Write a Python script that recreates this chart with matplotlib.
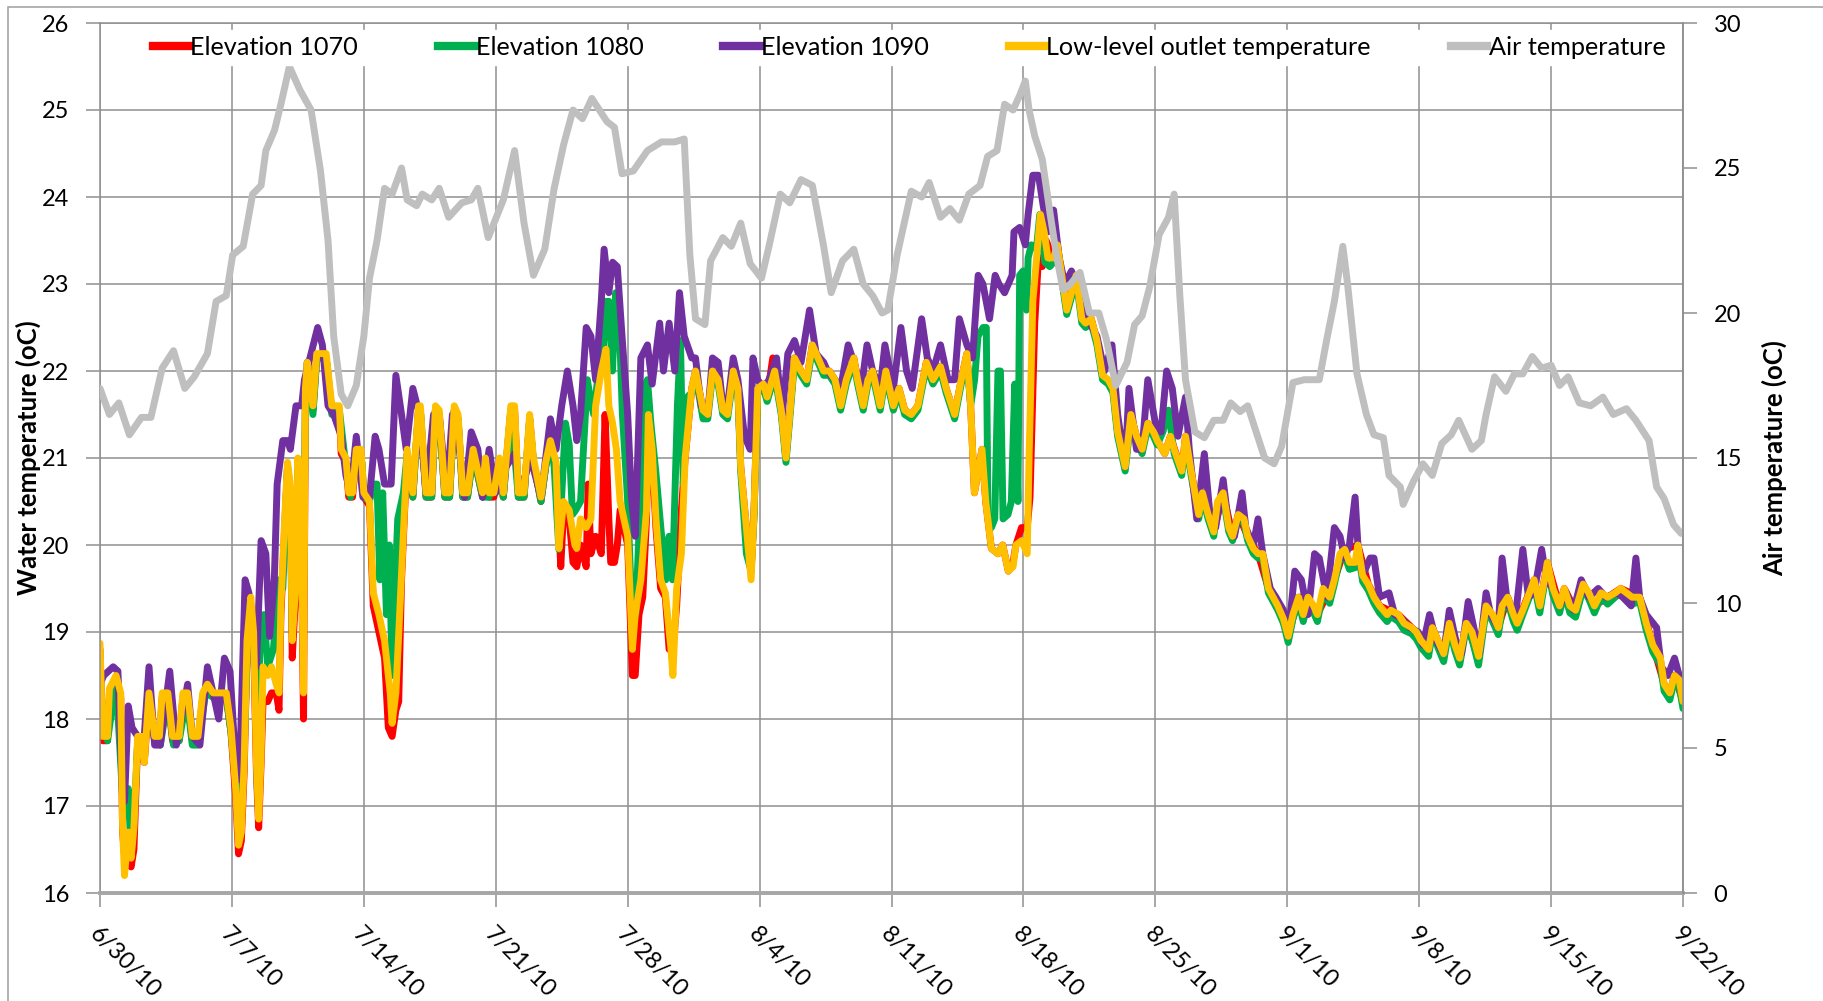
import matplotlib
matplotlib.use('Agg')
import matplotlib.pyplot as plt
from matplotlib.lines import Line2D
from matplotlib.patches import Rectangle

plt.rcParams['font.family'] = ['Lato', 'DejaVu Sans']

# days after 6/30/10
tick_days = [0, 7, 14, 21, 28, 35, 42, 49, 56, 63, 70, 77, 84]
tick_labels = ['6/30/10', '7/7/10', '7/14/10', '7/21/10', '7/28/10', '8/4/10', '8/11/10',
               '8/18/10', '8/25/10', '9/1/10', '9/8/10', '9/15/10', '9/22/10']

# (day, water temperature)
elev_1070 = [(0, 18.8), (0.14, 17.75), (0.4, 17.75), (0.5, 18.3), (0.85, 18.45), (1.1, 18.25), (1.2, 16.7), (1.35, 16.3),
             (1.5, 16.4), (1.65, 16.3), (1.8, 16.5), (2.0, 17.75), (2.2, 17.75), (2.35, 17.5), (2.6, 18.25), (2.9, 17.75),
             (3.15, 17.75), (3.3, 18.25), (3.6, 18.25), (3.85, 17.75), (4.2, 17.75), (4.4, 18.25), (4.65, 18.25), (4.9, 17.75),
             (5.2, 17.75), (5.45, 18.25), (5.7, 18.35), (6.0, 18.25), (6.7, 18.25), (6.95, 17.85), (7.2, 17.1), (7.35, 16.45),
             (7.5, 16.6), (7.65, 17.4), (7.8, 18.8), (8.0, 19.3), (8.15, 18.9), (8.3, 17.4), (8.42, 16.75), (8.55, 17.5),
             (8.65, 18.2), (8.9, 18.2), (9.1, 18.3), (9.35, 18.3), (9.5, 18.1), (9.6, 19.2), (9.8, 20.2), (9.95, 20.9),
             (10.1, 20.6), (10.2, 18.7), (10.4, 19.5), (10.5, 20.9), (10.7, 19.7), (10.8, 18.0), (10.9, 21.7), (11.0, 22.1),
             (11.3, 21.55), (11.5, 22.15), (12.0, 22.15), (12.3, 21.55), (12.7, 21.55), (12.8, 21.05), (13.05, 20.95),
             (13.2, 20.55), (13.4, 20.55), (13.6, 21.05), (13.85, 21.05), (14.0, 20.55), (14.3, 20.45), (14.5, 19.3),
             (14.8, 19.0), (15.1, 18.7), (15.3, 17.9), (15.5, 17.8), (15.7, 18.1), (15.85, 18.2), (16.0, 19.6), (16.2, 20.55),
             (16.3, 21.05), (16.6, 20.55), (16.9, 21.55), (17.0, 21.55), (17.3, 20.55), (17.6, 20.55), (17.8, 21.55),
             (18.0, 21.5), (18.3, 20.55), (18.55, 20.55), (18.8, 21.55), (19.0, 21.45), (19.25, 20.55), (19.5, 20.55),
             (19.8, 21.05), (20.05, 20.8), (20.3, 20.55), (20.45, 20.95), (20.65, 20.55), (20.9, 20.55), (21.2, 20.95),
             (21.4, 20.55), (21.8, 21.55), (22.0, 21.55), (22.2, 20.55), (22.5, 20.55), (22.8, 21.45), (23.0, 20.95),
             (23.4, 20.5), (23.65, 20.9), (23.9, 21.15), (24.2, 20.9), (24.45, 19.75), (24.6, 20.4), (24.9, 20.3),
             (25.1, 19.8), (25.3, 19.75), (25.5, 20.0), (25.8, 19.75), (25.9, 20.7), (26.05, 19.9), (26.3, 20.1),
             (26.6, 19.9), (26.8, 21.5), (27.0, 20.3), (27.1, 19.8), (27.3, 19.8), (27.45, 20.0), (27.6, 20.4), (28.0, 20.0),
             (28.25, 18.5), (28.4, 18.5), (28.6, 19.2), (28.8, 19.4), (29.0, 20.3), (29.1, 21.4), (29.3, 21.0), (29.5, 20.2),
             (29.75, 19.5), (30.0, 19.4), (30.2, 18.8), (30.4, 18.8), (30.6, 19.3), (30.85, 20.4), (31.05, 21.0),
             (31.4, 21.8), (31.6, 22.0), (32.0, 21.55), (32.25, 21.5), (32.5, 22.0), (32.8, 21.9), (33.05, 21.55),
             (33.3, 21.5), (33.6, 22.0), (33.85, 21.8), (34.0, 20.9), (34.3, 20.2), (34.55, 19.7), (34.7, 20.35),
             (34.9, 21.8), (35.2, 21.85), (35.4, 21.7), (35.7, 22.15), (36.15, 21.55), (36.4, 21.0), (36.6, 21.5),
             (36.85, 22.15), (37.2, 22.0), (37.5, 21.9), (37.8, 22.3), (38.1, 22.15), (38.4, 22.0), (38.7, 22.0),
             (39.0, 21.9), (39.3, 21.6), (39.6, 21.9), (40.0, 22.15), (40.2, 21.9), (40.5, 21.6), (40.75, 21.9),
             (41.0, 22.0), (41.4, 21.6), (41.7, 22.0), (42.1, 21.6), (42.4, 21.8), (42.7, 21.55), (43.05, 21.5),
             (43.4, 21.6), (43.85, 22.1), (44.2, 21.9), (44.6, 22.05), (44.9, 21.8), (45.35, 21.5), (45.7, 21.9),
             (46.0, 22.2), (46.2, 21.6), (46.4, 20.6), (46.6, 20.85), (46.8, 21.1), (47.0, 20.5), (47.3, 19.96),
             (47.65, 19.9), (47.9, 20.0), (48.2, 19.7), (48.45, 19.8), (48.6, 20.0), (48.9, 20.2), (49.2, 20.2),
             (49.35, 20.55), (49.6, 22.55), (49.8, 23.3), (50.0, 23.2), (50.2, 23.5), (50.6, 23.3), (50.8, 23.45),
             (51.1, 23.0), (51.3, 22.7), (51.55, 22.9), (51.8, 23.1), (52.1, 22.6), (52.6, 22.6), (52.9, 22.35),
             (53.2, 21.95), (53.75, 21.8), (54.0, 21.3), (54.4, 20.9), (54.7, 21.5), (55.0, 21.25), (55.3, 21.1),
             (55.6, 21.4), (56.1, 21.2), (56.5, 21.05), (56.8, 21.25), (57.4, 20.85), (57.6, 21.25), (57.9, 20.85),
             (58.3, 20.35), (58.5, 20.6), (59.1, 20.15), (59.6, 20.6), (60.1, 20.1), (60.4, 20.35), (60.9, 20.1),
             (61.45, 19.9), (62.0, 19.5), (62.5, 19.3), (63.05, 18.95), (63.6, 19.4), (64.1, 19.4), (64.6, 19.2),
             (65.5, 19.6), (66.05, 19.95), (66.75, 20.0), (67.3, 19.55), (67.9, 19.3), (68.9, 19.2), (69.85, 19.0),
             (70.5, 18.8), (70.7, 19.05), (71.3, 18.75), (71.6, 19.1), (72.15, 18.7), (72.5, 19.1), (73.15, 18.7),
             (73.55, 19.3), (74.2, 19.05), (74.7, 19.4), (75.2, 19.1), (76.1, 19.6), (76.4, 19.3), (76.8, 19.8),
             (77.45, 19.3), (77.7, 19.5), (78.3, 19.25), (78.7, 19.55), (79.3, 19.3), (80.0, 19.4), (80.7, 19.5),
             (81.7, 19.4), (82.4, 18.85), (83.0, 18.4), (83.3, 18.3), (83.55, 18.5), (84.0, 18.2)]

elev_1080 = [(0, 18.35), (0.4, 17.75), (0.85, 18.45), (1.2, 17.1), (1.3, 16.9), (1.5, 17.2), (1.65, 16.45), (1.8, 16.8),
             (2.0, 17.75), (2.3, 17.6), (2.6, 18.25), (2.9, 17.75), (3.2, 17.7), (3.6, 18.25), (3.9, 17.7), (4.2, 17.75),
             (4.6, 18.25), (4.9, 17.7), (5.2, 17.7), (5.6, 18.3), (6.0, 18.25), (6.7, 18.25), (6.95, 17.85), (7.2, 17.3),
             (7.4, 17.15), (7.6, 17.3), (7.85, 19.0), (8.0, 19.3), (8.2, 19.0), (8.35, 17.2), (8.5, 19.1), (8.7, 19.2),
             (8.9, 18.6), (9.2, 18.8), (9.5, 19.6), (9.7, 19.5), (9.95, 20.9), (10.1, 20.6), (10.2, 19.0), (10.4, 19.6),
             (10.5, 20.9), (10.7, 19.9), (10.8, 19.3), (10.9, 21.7), (11.0, 22.1), (11.3, 21.5), (11.5, 22.15), (12.0, 22.15),
             (12.3, 21.5), (12.7, 21.55), (13.05, 20.9), (13.3, 20.55), (13.6, 21.05), (13.9, 20.95), (14.0, 20.55),
             (14.3, 20.5), (14.5, 20.7), (14.7, 20.7), (14.85, 19.6), (15.0, 20.6), (15.2, 19.2), (15.35, 20.0),
             (15.5, 18.5), (15.65, 19.5), (15.8, 20.3), (16.1, 20.6), (16.3, 21.05), (16.6, 20.55), (16.9, 21.55),
             (17.0, 21.55), (17.3, 20.55), (17.6, 20.55), (17.8, 21.55), (18.0, 21.5), (18.3, 20.55), (18.55, 20.55),
             (18.8, 21.55), (19.0, 21.45), (19.25, 20.55), (19.5, 20.55), (19.8, 21.05), (20.05, 20.8), (20.3, 20.55),
             (20.65, 20.55), (21.2, 20.95), (21.4, 20.55), (21.8, 21.55), (22.2, 20.55), (22.5, 20.55), (22.8, 21.45),
             (23.0, 20.95), (23.4, 20.5), (23.65, 20.9), (23.9, 21.2), (24.1, 20.9), (24.35, 19.95), (24.7, 21.4),
             (24.9, 21.15), (25.07, 20.35), (25.24, 20.4), (25.5, 20.5), (25.86, 21.9), (26.04, 21.65), (26.2, 21.5),
             (26.4, 21.9), (26.66, 22.0), (26.84, 22.8), (27.01, 22.8), (27.19, 22.0), (27.37, 22.9), (27.55, 22.6),
             (27.72, 21.5), (27.99, 20.55), (28.16, 19.6), (28.43, 19.2), (28.61, 20.2), (28.87, 21.8), (29.05, 21.9),
             (29.23, 21.4), (29.49, 20.85), (29.76, 20.2), (30.02, 19.6), (30.2, 20.1), (30.38, 19.6), (30.64, 21.6),
             (30.8, 22.35), (30.95, 20.7), (31.15, 21.7), (31.4, 21.75), (31.6, 21.95), (32.0, 21.45), (32.25, 21.45),
             (32.5, 21.95), (32.8, 21.85), (33.05, 21.5), (33.3, 21.45), (33.6, 21.95), (33.85, 21.75), (34.0, 20.85),
             (34.3, 19.9), (34.55, 19.7), (34.7, 20.3), (34.9, 21.75), (35.2, 21.8), (35.4, 21.65), (35.8, 21.95),
             (36.15, 21.5), (36.4, 20.95), (36.6, 21.45), (36.85, 22.1), (37.2, 21.95), (37.5, 21.85), (37.8, 22.25),
             (38.1, 22.1), (38.4, 21.95), (38.7, 21.95), (39.0, 21.85), (39.3, 21.55), (39.6, 21.85), (40.0, 22.1),
             (40.2, 21.85), (40.5, 21.55), (40.75, 21.85), (41.0, 21.95), (41.4, 21.55), (41.7, 21.95), (42.1, 21.55),
             (42.4, 21.75), (42.7, 21.5), (43.05, 21.45), (43.4, 21.55), (43.85, 22.05), (44.2, 21.85), (44.6, 22.0),
             (44.9, 21.75), (45.35, 21.45), (45.7, 21.85), (46.0, 22.15), (46.2, 21.6), (46.41, 21.9), (46.59, 22.4),
             (46.86, 22.5), (47.03, 22.5), (47.12, 20.3), (47.3, 20.2), (47.48, 20.3), (47.65, 22.0), (47.78, 22.0),
             (47.92, 20.3), (48.18, 20.35), (48.36, 20.5), (48.54, 21.85), (48.71, 20.5), (48.8, 23.1), (48.98, 23.15),
             (49.16, 22.7), (49.25, 23.3), (49.42, 23.45), (49.69, 23.4), (49.87, 23.8), (50.13, 23.25), (50.4, 23.2),
             (50.6, 23.25), (50.8, 23.4), (51.1, 22.95), (51.3, 22.65), (51.55, 22.85), (51.8, 23.05), (52.1, 22.55),
             (52.3, 22.5), (52.6, 22.55), (52.9, 22.3), (53.2, 21.9), (53.5, 21.85), (53.75, 21.75), (54.0, 21.25),
             (54.4, 20.85), (54.7, 21.45), (55.0, 21.2), (55.3, 21.05), (55.6, 21.35), (55.9, 21.25), (56.1, 21.15),
             (56.4, 21.3), (56.7, 21.55), (57.0, 21.05), (57.4, 20.8), (57.6, 21.2), (57.9, 20.8), (58.3, 20.3),
             (58.5, 20.55), (58.8, 20.3), (59.1, 20.1), (59.3, 20.45), (59.6, 20.55), (59.9, 20.15), (60.1, 20.05),
             (60.4, 20.3), (60.7, 20.25), (60.9, 20.05), (61.2, 19.9), (61.45, 19.85), (61.7, 19.85), (62.0, 19.45),
             (62.25, 19.35), (62.5, 19.25), (62.8, 19.1), (63.05, 18.88), (63.3, 19.15), (63.6, 19.35), (63.85, 19.12),
             (64.1, 19.35), (64.4, 19.22), (64.6, 19.12), (64.9, 19.45), (65.25, 19.33), (65.5, 19.55), (65.8, 19.85),
             (66.05, 19.88), (66.3, 19.72), (66.6, 19.74), (66.75, 19.95), (67.0, 19.58), (67.3, 19.48), (67.6, 19.33),
             (67.9, 19.22), (68.3, 19.12), (68.5, 19.18), (68.9, 19.12), (69.2, 19.02), (69.6, 18.98), (69.85, 18.92),
             (70.1, 18.82), (70.5, 18.72), (70.7, 19.0), (71.0, 18.82), (71.3, 18.66), (71.6, 19.05), (71.9, 18.78),
             (72.15, 18.62), (72.5, 19.05), (72.8, 18.92), (73.15, 18.62), (73.55, 19.25), (73.9, 19.12), (74.2, 18.97),
             (74.4, 19.25), (74.7, 19.35), (75.0, 19.12), (75.2, 19.02), (75.5, 19.2), (75.85, 19.4), (76.1, 19.55),
             (76.4, 19.22), (76.65, 19.55), (76.8, 19.75), (77.1, 19.42), (77.45, 19.22), (77.7, 19.45), (78.0, 19.22),
             (78.3, 19.17), (78.7, 19.5), (79.0, 19.38), (79.3, 19.22), (79.65, 19.4), (80.0, 19.32), (80.4, 19.4),
             (80.7, 19.45), (81.0, 19.38), (81.3, 19.32), (81.7, 19.35), (82.05, 19.02), (82.4, 18.77), (82.8, 18.62),
             (83.0, 18.32), (83.3, 18.22), (83.55, 18.45), (83.8, 18.37), (84.0, 18.12)]

elev_1090 = [(0, 18.4), (0.2, 18.5), (0.7, 18.6), (0.95, 18.55), (1.2, 17.1), (1.3, 17.05), (1.5, 18.15), (1.7, 17.9),
             (2.0, 17.8), (2.3, 17.65), (2.6, 18.6), (2.9, 17.7), (3.2, 17.7), (3.7, 18.55), (4.05, 17.7), (4.65, 18.4),
             (4.9, 17.8), (5.3, 17.7), (5.7, 18.6), (6.0, 18.3), (6.3, 18.0), (6.6, 18.7), (6.9, 18.55), (7.15, 17.65),
             (7.4, 17.3), (7.7, 19.6), (7.9, 19.45), (8.3, 18.6), (8.55, 20.05), (8.8, 19.9), (9.0, 18.95), (9.25, 19.6),
             (9.4, 20.7), (9.7, 21.2), (9.95, 21.2), (10.1, 21.1), (10.4, 21.6), (10.7, 21.6), (10.85, 21.9), (11.2, 22.2),
             (11.55, 22.5), (11.8, 22.3), (12.1, 21.6), (12.4, 21.5), (12.8, 21.25), (13.05, 20.8), (13.3, 20.6),
             (13.6, 21.25), (13.95, 20.55), (14.3, 20.55), (14.6, 21.25), (14.8, 21.1), (15.1, 20.7), (15.45, 20.7),
             (15.7, 21.95), (16.0, 21.5), (16.25, 21.1), (16.6, 21.8), (16.95, 21.5), (17.3, 20.6), (17.7, 21.5),
             (18.0, 21.5), (18.4, 20.6), (18.7, 21.5), (19.1, 21.05), (19.35, 20.55), (19.7, 21.3), (20.05, 21.1),
             (20.3, 20.55), (20.65, 21.1), (21.0, 20.6), (21.4, 20.85), (22.0, 21.05), (22.3, 20.6), (22.85, 21.0),
             (23.4, 20.55), (23.9, 21.45), (24.2, 21.1), (24.5, 21.6), (24.8, 22.0), (25.1, 21.6), (25.3, 21.2),
             (25.5, 21.5), (25.8, 22.5), (26.05, 22.4), (26.3, 21.9), (26.6, 22.8), (26.75, 23.4), (27.0, 22.9),
             (27.2, 23.25), (27.45, 23.2), (27.7, 22.4), (28.0, 21.5), (28.2, 20.55), (28.4, 20.1), (28.7, 22.15),
             (29.05, 22.3), (29.3, 21.85), (29.7, 22.55), (29.9, 22.0), (30.2, 22.55), (30.5, 22.0), (30.75, 22.9),
             (31.0, 22.4), (31.4, 22.15), (31.6, 22.15), (31.9, 21.6), (32.25, 21.5), (32.5, 22.15), (32.8, 22.1),
             (33.05, 21.6), (33.3, 21.6), (33.6, 22.15), (33.85, 21.9), (34.2, 21.25), (34.5, 21.1), (34.65, 22.15),
             (34.9, 21.9), (35.2, 21.8), (35.5, 21.9), (35.9, 22.15), (36.2, 21.5), (36.5, 22.2), (36.85, 22.35),
             (37.2, 22.1), (37.65, 22.7), (38.0, 22.2), (38.4, 22.1), (38.6, 22.0), (39.0, 21.9), (39.3, 21.8),
             (39.7, 22.3), (40.0, 22.1), (40.4, 21.8), (40.7, 22.3), (41.0, 22.0), (41.4, 21.8), (41.65, 22.3),
             (42.1, 21.8), (42.5, 22.5), (42.8, 22.0), (43.1, 21.8), (43.6, 22.6), (43.9, 22.15), (44.2, 22.0),
             (44.6, 22.3), (45.0, 21.9), (45.35, 21.9), (45.6, 22.6), (46.0, 22.3), (46.3, 22.15), (46.6, 23.1),
             (46.85, 23.0), (47.2, 22.6), (47.5, 23.1), (47.7, 23.0), (48.0, 22.9), (48.4, 23.1), (48.5, 23.6),
             (48.8, 23.65), (49.1, 23.45), (49.25, 23.8), (49.5, 24.25), (49.8, 24.25), (50.05, 23.9), (50.3, 23.6),
             (50.6, 23.85), (50.9, 23.3), (51.2, 23.0), (51.55, 23.15), (51.8, 23.0), (52.2, 22.7), (52.4, 22.6),
             (52.9, 22.4), (53.3, 22.0), (53.7, 22.3), (54.0, 21.5), (54.4, 20.9), (54.6, 21.8), (55.0, 21.1),
             (55.3, 21.1), (55.6, 21.9), (56.0, 21.4), (56.3, 21.3), (56.6, 22.0), (56.9, 21.8), (57.2, 21.25),
             (57.6, 21.7), (57.8, 21.1), (58.2, 20.3), (58.6, 21.05), (58.9, 20.35), (59.2, 20.2), (59.6, 20.75),
             (59.9, 20.2), (60.2, 20.1), (60.6, 20.6), (60.8, 20.2), (61.2, 20.0), (61.45, 20.3), (61.7, 19.9),
             (62.1, 19.5), (62.4, 19.4), (62.8, 19.25), (63.05, 18.95), (63.4, 19.7), (63.75, 19.6), (64.1, 19.2),
             (64.45, 19.9), (64.7, 19.85), (65.1, 19.4), (65.5, 20.2), (65.8, 20.1), (66.05, 19.85), (66.3, 20.0),
             (66.6, 20.55), (66.75, 20.0), (67.0, 19.65), (67.4, 19.85), (67.6, 19.85), (67.9, 19.4), (68.4, 19.45),
             (68.7, 19.2), (69.1, 19.15), (69.5, 19.05), (69.95, 19.0), (70.2, 18.85), (70.55, 19.2), (70.9, 18.9),
             (71.3, 18.75), (71.6, 19.25), (72.0, 18.85), (72.25, 18.75), (72.6, 19.35), (72.9, 19.05), (73.2, 18.75),
             (73.55, 19.45), (73.8, 19.2), (74.2, 19.05), (74.4, 19.85), (74.7, 19.3), (75.15, 19.25), (75.5, 19.95),
             (75.8, 19.4), (76.1, 19.45), (76.5, 19.95), (76.75, 19.6), (77.1, 19.5), (77.45, 19.3), (77.8, 19.45),
             (78.2, 19.25), (78.6, 19.6), (79.0, 19.4), (79.5, 19.5), (79.9, 19.4), (80.5, 19.45), (80.8, 19.4),
             (81.25, 19.3), (81.5, 19.85), (81.7, 19.4), (82.05, 19.2), (82.6, 19.05), (82.85, 18.6), (83.2, 18.5),
             (83.55, 18.7), (83.8, 18.5), (84.0, 18.35)]

outlet = [(0, 18.87), (0.14, 17.8), (0.4, 17.8), (0.5, 18.35), (0.85, 18.5), (1.1, 18.3), (1.2, 16.75), (1.3, 16.2),
          (1.5, 16.7), (1.65, 16.4), (1.8, 16.75), (2.0, 17.8), (2.2, 17.8), (2.35, 17.5), (2.6, 18.3), (2.9, 17.8),
          (3.15, 17.8), (3.3, 18.3), (3.6, 18.3), (3.85, 17.8), (4.2, 17.8), (4.4, 18.3), (4.65, 18.3), (4.9, 17.8),
          (5.2, 17.8), (5.45, 18.3), (5.7, 18.4), (6.0, 18.3), (6.7, 18.3), (6.95, 17.9), (7.2, 17.2), (7.35, 16.55),
          (7.5, 16.7), (7.65, 17.5), (7.8, 18.9), (8.0, 19.4), (8.15, 19.0), (8.3, 17.5), (8.42, 16.85), (8.55, 17.6),
          (8.65, 18.6), (8.9, 18.5), (9.1, 18.6), (9.35, 18.4), (9.5, 18.3), (9.6, 19.3), (9.8, 20.3), (9.95, 20.95),
          (10.1, 20.7), (10.2, 18.9), (10.4, 19.6), (10.5, 21.0), (10.7, 19.8), (10.8, 18.3), (10.9, 21.8), (11.0, 22.1),
          (11.3, 21.6), (11.5, 22.2), (12.0, 22.2), (12.3, 21.6), (12.7, 21.6), (12.8, 21.1), (13.05, 21.0), (13.2, 20.6),
          (13.4, 20.6), (13.6, 21.1), (13.85, 21.1), (14.0, 20.6), (14.3, 20.5), (14.5, 19.45), (14.8, 19.2), (15.1, 18.9),
          (15.4, 18.3), (15.5, 17.95), (15.7, 18.3), (15.9, 19.2), (16.2, 20.6), (16.3, 21.1), (16.6, 20.6), (16.9, 21.6),
          (17.0, 21.6), (17.3, 20.6), (17.6, 20.6), (17.8, 21.6), (18.0, 21.55), (18.3, 20.6), (18.55, 20.6), (18.8, 21.6),
          (19.0, 21.5), (19.25, 20.6), (19.5, 20.6), (19.8, 21.1), (20.05, 20.85), (20.3, 20.6), (20.45, 21.0),
          (20.65, 20.6), (20.9, 20.6), (21.2, 21.0), (21.4, 20.6), (21.8, 21.6), (22.0, 21.6), (22.2, 20.6), (22.5, 20.6),
          (22.8, 21.5), (23.0, 21.0), (23.4, 20.55), (23.65, 20.95), (23.9, 21.2), (24.2, 20.95), (24.35, 19.96),
          (24.6, 20.5), (24.9, 20.4), (25.2, 20.0), (25.3, 19.96), (25.5, 20.3), (25.8, 20.2), (26.05, 20.3), (26.3, 21.6),
          (26.6, 22.0), (26.85, 22.25), (27.0, 21.6), (27.2, 21.4), (27.4, 21.1), (27.6, 20.5), (28.0, 20.1), (28.25, 18.8),
          (28.4, 19.2), (28.7, 19.6), (29.0, 20.4), (29.1, 21.5), (29.3, 21.1), (29.5, 20.3), (29.75, 19.6), (30.0, 19.45),
          (30.3, 18.8), (30.4, 18.5), (30.6, 19.5), (30.85, 19.9), (31.05, 21.0), (31.4, 21.8), (31.6, 22.0),
          (32.0, 21.55), (32.25, 21.5), (32.5, 22.0), (32.8, 21.9), (33.05, 21.55), (33.3, 21.5), (33.6, 22.0),
          (33.85, 21.8), (34.0, 20.9), (34.3, 20.2), (34.55, 19.6), (34.7, 20.35), (34.9, 21.8), (35.2, 21.85),
          (35.4, 21.7), (35.8, 22.0), (36.15, 21.55), (36.4, 21.0), (36.6, 21.5), (36.85, 22.15), (37.2, 22.0),
          (37.5, 21.9), (37.8, 22.3), (38.1, 22.15), (38.4, 22.0), (38.7, 22.0), (39.0, 21.9), (39.3, 21.6), (39.6, 21.9),
          (40.0, 22.15), (40.2, 21.9), (40.5, 21.6), (40.75, 21.9), (41.0, 22.0), (41.4, 21.6), (41.7, 22.0), (42.1, 21.6),
          (42.4, 21.8), (42.7, 21.55), (43.05, 21.5), (43.4, 21.6), (43.85, 22.1), (44.2, 21.9), (44.6, 22.05),
          (44.9, 21.8), (45.35, 21.5), (45.7, 21.9), (46.0, 22.2), (46.2, 21.6), (46.4, 20.6), (46.6, 20.85), (46.8, 21.1),
          (47.0, 20.5), (47.3, 19.96), (47.65, 19.9), (47.9, 20.0), (48.2, 19.7), (48.45, 19.75), (48.6, 20.0),
          (48.9, 20.05), (49.2, 19.9), (49.3, 21.0), (49.5, 22.8), (49.7, 23.3), (49.9, 23.8), (50.1, 23.6), (50.3, 23.3),
          (50.6, 23.3), (50.8, 23.45), (51.1, 23.0), (51.3, 22.7), (51.55, 22.9), (51.8, 23.1), (52.1, 22.6), (52.3, 22.55),
          (52.6, 22.6), (52.9, 22.35), (53.2, 21.95), (53.5, 21.9), (53.75, 21.8), (54.0, 21.3), (54.4, 20.9), (54.7, 21.5),
          (55.0, 21.25), (55.3, 21.1), (55.6, 21.4), (55.9, 21.3), (56.1, 21.2), (56.5, 21.05), (56.8, 21.25), (57.0, 21.1),
          (57.4, 20.85), (57.6, 21.25), (57.9, 20.85), (58.3, 20.35), (58.5, 20.6), (58.8, 20.35), (59.1, 20.15),
          (59.3, 20.5), (59.6, 20.6), (59.9, 20.2), (60.1, 20.1), (60.4, 20.35), (60.7, 20.3), (60.9, 20.1), (61.2, 19.96),
          (61.45, 19.9), (61.7, 19.9), (62.0, 19.5), (62.25, 19.4), (62.5, 19.3), (62.8, 19.15), (63.05, 18.95),
          (63.3, 19.2), (63.6, 19.4), (63.85, 19.2), (64.1, 19.4), (64.4, 19.3), (64.6, 19.2), (64.9, 19.5), (65.25, 19.4),
          (65.5, 19.6), (65.8, 19.9), (66.05, 19.95), (66.3, 19.8), (66.6, 19.8), (66.75, 20.0), (67.0, 19.65),
          (67.3, 19.55), (67.6, 19.4), (67.9, 19.3), (68.3, 19.2), (68.5, 19.25), (68.9, 19.2), (69.2, 19.1), (69.6, 19.05),
          (69.85, 19.0), (70.1, 18.9), (70.5, 18.8), (70.7, 19.05), (71.0, 18.9), (71.3, 18.75), (71.6, 19.1),
          (71.9, 18.85), (72.15, 18.7), (72.5, 19.1), (72.8, 19.0), (73.15, 18.72), (73.55, 19.3), (73.9, 19.2),
          (74.2, 19.05), (74.4, 19.3), (74.7, 19.4), (75.0, 19.2), (75.2, 19.1), (75.5, 19.25), (75.85, 19.45), (76.1, 19.6),
          (76.4, 19.3), (76.65, 19.6), (76.8, 19.8), (77.1, 19.5), (77.45, 19.3), (77.7, 19.5), (78.0, 19.3), (78.3, 19.25),
          (78.7, 19.55), (79.0, 19.45), (79.3, 19.3), (79.65, 19.45), (80.0, 19.4), (80.4, 19.45), (80.7, 19.5),
          (81.0, 19.45), (81.3, 19.4), (81.7, 19.4), (82.05, 19.1), (82.4, 18.85), (82.8, 18.7), (83.0, 18.4), (83.3, 18.3),
          (83.55, 18.5), (83.8, 18.45), (84.0, 18.2)]

# (day, air temperature), right axis
air = [(0, 17.4), (0.5, 16.5), (1.0, 16.9), (1.56, 15.8), (2.2, 16.4), (2.7, 16.4), (3.3, 18.1), (3.9, 18.7), (4.5, 17.4),
       (5.0, 17.8), (5.7, 18.6), (6.16, 20.4), (6.7, 20.6), (7.04, 22.0), (7.6, 22.3), (8.1, 24.1), (8.55, 24.4),
       (8.8, 25.6), (9.26, 26.3), (9.6, 27.2), (10.05, 28.5), (10.6, 27.7), (11.2, 27.0), (11.7, 24.9), (12.1, 22.5),
       (12.4, 19.2), (12.8, 17.2), (13.15, 16.8), (13.6, 17.5), (14.0, 19.2), (14.3, 21.2), (14.7, 22.5), (15.1, 24.3),
       (15.5, 24.1), (16.0, 25.0), (16.3, 23.9), (16.8, 23.7), (17.1, 24.1), (17.6, 23.9), (18.0, 24.3), (18.5, 23.3),
       (19.2, 23.8), (19.7, 23.9), (20.05, 24.3), (20.6, 22.6), (21.4, 23.9), (22.0, 25.6), (22.5, 23.1), (23.0, 21.3),
       (23.6, 22.2), (24.1, 24.3), (24.6, 25.8), (25.1, 27.0), (25.6, 26.7), (26.1, 27.4), (26.5, 27.0), (26.9, 26.6),
       (27.3, 26.4), (27.7, 24.8), (28.3, 24.9), (29.05, 25.6), (29.8, 25.9), (30.5, 25.9), (31.0, 26.0), (31.3, 22.0),
       (31.6, 19.8), (32.1, 19.6), (32.4, 21.8), (33.05, 22.6), (33.5, 22.3), (34.0, 23.1), (34.5, 21.7), (35.1, 21.2),
       (35.5, 22.3), (36.1, 24.1), (36.6, 23.8), (37.2, 24.6), (37.8, 24.4), (38.4, 22.3), (38.8, 20.7), (39.4, 21.8),
       (40.0, 22.2), (40.5, 21.0), (41.0, 20.6), (41.5, 20.0), (41.8, 20.1), (42.3, 22.0), (43.05, 24.2), (43.6, 24.0),
       (44.0, 24.5), (44.6, 23.3), (45.1, 23.6), (45.6, 23.2), (46.1, 24.1), (46.7, 24.4), (47.1, 25.4), (47.6, 25.6),
       (48.0, 27.2), (48.45, 27.0), (48.8, 27.5), (49.1, 28.0), (49.3, 27.0), (49.6, 26.1), (50.0, 25.3), (50.4, 23.5),
       (50.75, 22.0), (51.1, 20.8), (51.5, 21.0), (52.0, 21.4), (52.5, 20.0), (53.0, 20.0), (53.4, 19.1), (53.9, 17.5),
       (54.5, 18.3), (54.9, 19.6), (55.3, 19.9), (55.7, 20.9), (56.2, 22.7), (56.7, 23.3), (57.0, 24.1), (57.3, 20.6),
       (57.6, 17.7), (58.1, 15.9), (58.6, 15.7), (59.1, 16.3), (59.6, 16.3), (60.0, 16.9), (60.5, 16.6), (60.9, 16.8),
       (61.4, 15.8), (61.8, 15.0), (62.3, 14.8), (62.7, 15.4), (63.0, 16.5), (63.3, 17.6), (63.9, 17.7), (64.7, 17.7),
       (65.1, 19.1), (65.5, 20.4), (65.95, 22.3), (66.2, 21.0), (66.7, 17.9), (67.2, 16.5), (67.6, 15.8), (68.1, 15.7),
       (68.4, 14.4), (69.0, 14.0), (69.15, 13.4), (69.7, 14.2), (70.2, 14.8), (70.7, 14.4), (71.2, 15.5), (71.7, 15.8),
       (72.1, 16.3), (72.8, 15.3), (73.3, 15.6), (73.55, 16.5), (74.0, 17.8), (74.6, 17.3), (75.05, 17.9), (75.5, 17.9),
       (76.0, 18.5), (76.5, 18.1), (77.0, 18.2), (77.45, 17.5), (77.9, 17.8), (78.5, 16.9), (79.1, 16.8), (79.75, 17.1),
       (80.3, 16.5), (81.0, 16.7), (81.5, 16.3), (81.9, 15.9), (82.2, 15.6), (82.6, 14.0), (83.0, 13.6), (83.5, 12.7),
       (83.9, 12.4)]

series = [('Elevation 1070', elev_1070, '#FF0000'),
          ('Elevation 1080', elev_1080, '#00B050'),
          ('Elevation 1090', elev_1090, '#7030A0'),
          ('Low-level outlet temperature', outlet, '#FFC000')]

grid_col = '#8f8f8f'

fig = plt.figure(figsize=(18.23, 10.01), dpi=100)
ax = fig.add_axes([100 / 1823, 1 - 893 / 1001, 1583 / 1823, 870 / 1001])
ax2 = ax.twinx()

handles = []
for name, data, col in series:
    d = [p[0] for p in data]
    v = [p[1] for p in data]
    ax.plot(d, v, color=col, lw=5.0, solid_joinstyle='round', solid_capstyle='round')
    handles.append(Line2D([], [], color=col, lw=6, label=name))

d = [p[0] for p in air]
v = [p[1] for p in air]
ax2.plot(d, v, color='#BFBFBF', lw=5.0, solid_joinstyle='round', solid_capstyle='round')
handles.append(Line2D([], [], color='#BFBFBF', lw=6, label='Air temperature'))

ax.set_xlim(0, 84)
ax.set_ylim(16, 26)
ax2.set_ylim(0, 30)
ax.set_yticks(range(16, 27))
ax2.set_yticks(range(0, 31, 5))
ax.set_xticks(tick_days)
ax.set_xticklabels(tick_labels, rotation=-45, ha='left', va='top', rotation_mode='anchor')

ax.grid(True, color=grid_col, lw=1.1)
ax.set_axisbelow(True)

for sp in ['top', 'right', 'left']:
    ax.spines[sp].set_color(grid_col)
    ax.spines[sp].set_linewidth(1.1)
ax.spines['bottom'].set_color('#a6a6a6')
ax.spines['bottom'].set_linewidth(2.8)
for sp in ax2.spines.values():
    sp.set_visible(False)
ax2.spines['right'].set_visible(True)
ax2.spines['right'].set_color(grid_col)
ax2.spines['right'].set_linewidth(1.1)

ax.tick_params(axis='y', length=10, width=1.1, color=grid_col, pad=12, labelsize=17)
ax.tick_params(axis='x', length=10, width=1.1, color=grid_col, pad=12, labelsize=17)
ax2.tick_params(axis='y', length=10, width=1.1, color=grid_col, pad=12, labelsize=17)

ax.set_ylabel('Water temperature (oC)', fontsize=18.5, fontweight='bold')
ax.yaxis.set_label_coords(-0.037, 0.5)
ax2.set_ylabel('Air temperature (oC)', fontsize=18.5, fontweight='bold')
ax2.yaxis.set_label_coords(1.050, 0.5)

leg = ax2.legend(handles=handles, loc='center', bbox_to_anchor=(0.511, 0.972), ncol=5,
                 frameon=True, fontsize=18.2, handlelength=1.45, handletextpad=0.05,
                 columnspacing=3.15, borderpad=0.25, fancybox=False)
leg.get_frame().set_facecolor('white')
leg.get_frame().set_edgecolor('white')
leg.get_frame().set_alpha(1)

fig.add_artist(Rectangle((8 / 1823, -0.01), 1.1, 1 - 7 / 1001 + 0.01, transform=fig.transFigure,
                         fill=False, edgecolor='#a6a6a6', lw=1.2))

fig.savefig('out.png', dpi=100)
